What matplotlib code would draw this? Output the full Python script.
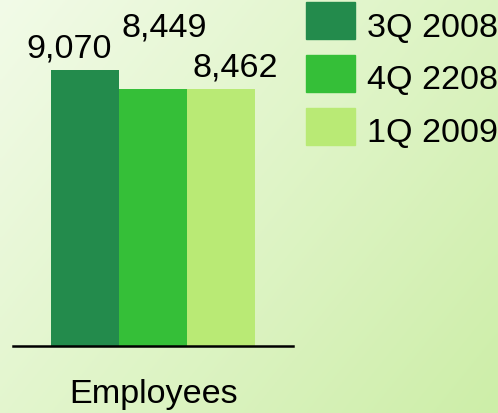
import matplotlib
matplotlib.use("Agg")
import matplotlib.pyplot as plt
import numpy as np
from matplotlib.patches import Rectangle

plt.rcParams['font.family'] = ['Liberation Sans', 'DejaVu Sans']

series = ["3Q 2008", "4Q 2208", "1Q 2009"]
values = [9070, 8449, 8462]
value_labels = ["9,070", "8,449", "8,462"]
category = "Employees"
colors = ["#238B4C", "#35BF38", "#B9EA75"]

W, H = 498, 414
FS = 24.6
fig = plt.figure(figsize=(W / 100, H / 100), dpi=100)

# gradient background
bg = fig.add_axes([0, 0, 1, 1], zorder=-10)
yy, xx = np.mgrid[0:1:200j, 0:1:200j]
t = (xx * 0.6 + yy * 0.4)
c0 = np.array([242, 251, 232]) / 255
c1 = np.array([205, 238, 168]) / 255
img = c0[None, None, :] * (1 - t[..., None]) + c1[None, None, :] * t[..., None]
bg.imshow(img, extent=[0, 1, 0, 1], aspect='auto', origin='upper')
bg.axis('off')

# main axes: baseline at y=347px, spanning x 13..293
left, right = 13 / W, 293 / W
bottom = (H - 347) / H
ax = fig.add_axes([left, bottom, right - left, 1 - bottom])
ax.patch.set_alpha(0)
x = np.arange(len(values))
bars = ax.bar(x, values, width=1.0, color=colors, zorder=2)
ax.set_xlim(-1.059, 3.059)
ax.set_ylim(0, 347 / (276 / 9070))
for s in ['top', 'right', 'left']:
    ax.spines[s].set_visible(False)
ax.spines['bottom'].set_linewidth(1.8)
ax.spines['bottom'].set_color('black')
ax.set_xticks([])
ax.set_yticks([])

offsets = [(-16, 13), (11, 53), (14.5, 13)]
for b, lab, (dx, dy) in zip(bars, value_labels, offsets):
    ax.annotate(lab, (b.get_x() + b.get_width() / 2, b.get_height()),
                xytext=(dx, dy), textcoords='offset pixels',
                ha='center', va='baseline', fontsize=FS, color='black')

fig.text(153.5 / W, (H - 403) / H, category, ha='center', va='baseline',
         fontsize=FS, color='black')

# legend
for i, (name, col) in enumerate(zip(series, colors)):
    top = 3 + i * 53
    fig.patches.append(Rectangle((306 / W, (H - top - 37) / H), 49 / W, 37 / H,
                                 transform=fig.transFigure, color=col))
    fig.text(367 / W, (H - (37 + i * 52.5)) / H, name, ha='left', va='baseline',
             fontsize=FS, color='black')

fig.savefig("out.png", dpi=100)
